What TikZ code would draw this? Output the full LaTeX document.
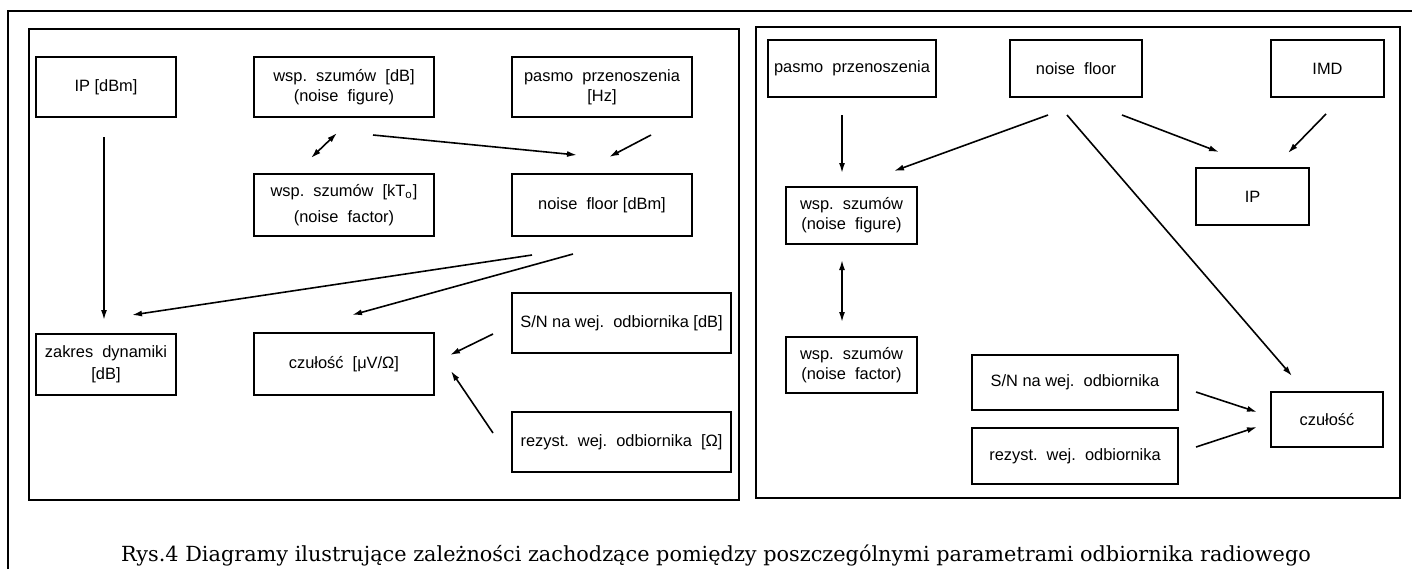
\documentclass[tikz,border=0pt]{standalone}
\usepackage{fontspec}
\newfontfamily\boxfont{Liberation Sans}
\newfontfamily\capfont{DejaVu Serif}
\usetikzlibrary{arrows.meta}
\tikzset{>={Latex[length=5pt,width=3pt]}}
\tikzset{box/.style={draw, line width=1pt, align=center, inner sep=0pt, font={\boxfont\fontsize{8.2}{10}\selectfont}}}
\tikzset{conn/.style={line width=0.8pt}}
\begin{document}
\begin{tikzpicture}[x=0.5pt, y=-0.5pt]
\useasboundingbox (0,0) rectangle (1412,569);
% frame and the two panels
\draw[line width=1pt] (8,569) -- (8,11) -- (1412,11);
\draw[line width=1pt] (29,29) rectangle (739,500);
\draw[line width=1pt] (756,27) rectangle (1400,498);

% left panel
\node[box, minimum width=70pt, minimum height=30pt] (ipL) at (106,87) {IP [dBm]};
\node[box, minimum width=90pt, minimum height=30pt] (nfigL) at (344,87) {wsp.~~szumów~~[dB]\\(noise~~figure)};
\node[box, minimum width=90pt, minimum height=30pt] (bwL) at (602,87) {pasmo~~przenoszenia\\{[Hz]}};
\node[box, minimum width=90pt, minimum height=31pt] (nfacL) at (344,205) {wsp.~~szumów~~[kT\textsubscript{o}]\\[3pt](noise~~factor)};
\node[box, minimum width=90pt, minimum height=31pt] (floorL) at (602,205) {noise~~floor [dBm]};
\node[box, minimum width=109.5pt, minimum height=30pt] (snL) at (621.5,323) {S/N na wej.~~odbiornika [dB]};
\node[box, minimum width=70pt, minimum height=30.5pt] (dynL) at (106,364.5) {zakres~~dynamiki\\[1pt]{[dB]}};
\node[box, minimum width=90pt, minimum height=31pt] (sensL) at (344,364) {czułość~~[μV/Ω]};
\node[box, minimum width=109.5pt, minimum height=30pt] (resL) at (621.5,442) {rezyst.~~wej.~~odbiornika~~[Ω]};

\coordinate (l1a) at (104,137); \coordinate (l1b) at (104,320);
\coordinate (l2a) at (337,133); \coordinate (l2b) at (311,158);
\coordinate (l3a) at (373,135); \coordinate (l3b) at (577,155);
\coordinate (l4a) at (651,135); \coordinate (l4b) at (609,157);
\coordinate (l5a) at (532,255); \coordinate (l5b) at (132,315);
\coordinate (l6a) at (573,254); \coordinate (l6b) at (352,315);
\coordinate (l7a) at (493,334); \coordinate (l7b) at (450,355);
\coordinate (l8a) at (493,433); \coordinate (l8b) at (451,371);
\draw[conn, ->] (l1a) -- (l1b);
\draw[conn, <->] (l2a) -- (l2b);
\draw[conn, ->] (l3a) -- (l3b);
\draw[conn, ->] (l4a) -- (l4b);
\draw[conn, ->] (l5a) -- (l5b);
\draw[conn, ->] (l6a) -- (l6b);
\draw[conn, ->] (l7a) -- (l7b);
\draw[conn, ->] (l8a) -- (l8b);

% right panel
\node[box, minimum width=84pt, minimum height=28.5pt] (bwR) at (852,68.5) {pasmo~~przenoszenia};
\node[box, minimum width=66pt, minimum height=28.5pt] (floorR) at (1076,68.5) {noise~~floor};
\node[box, minimum width=56.5pt, minimum height=28.5pt] (imdR) at (1327.5,68.5) {IMD};
\node[box, minimum width=65.5pt, minimum height=28.5pt] (nfigR) at (851.5,215.5) {wsp.~~szumów\\(noise~~figure)};
\node[box, minimum width=56.5pt, minimum height=28.5pt] (ipR) at (1252.5,196.5) {IP};
\node[box, minimum width=65.5pt, minimum height=28pt] (nfacR) at (851.5,365) {wsp.~~szumów\\(noise~~factor)};
\node[box, minimum width=103pt, minimum height=27.5pt] (snR) at (1075,382.5) {S/N na wej.~~odbiornika};
\node[box, minimum width=103pt, minimum height=28pt] (resR) at (1075,456) {rezyst.~~wej.~~odbiornika};
\node[box, minimum width=56pt, minimum height=27.5pt] (sensR) at (1327,419.5) {czułość};

\coordinate (r1a) at (842,115); \coordinate (r1b) at (842,173);
\coordinate (r2a) at (1048,115); \coordinate (r2b) at (894,171);
\coordinate (r3a) at (1067,115); \coordinate (r3b) at (1292,376);
\coordinate (r4a) at (1122,115); \coordinate (r4b) at (1219,152);
\coordinate (r5a) at (1326,114); \coordinate (r5b) at (1288,153);
\coordinate (r6a) at (842,260); \coordinate (r6b) at (842,322);
\coordinate (r7a) at (1196,392); \coordinate (r7b) at (1257,412);
\coordinate (r8a) at (1196,447); \coordinate (r8b) at (1257,427);
\draw[conn, ->] (r1a) -- (r1b);
\draw[conn, ->] (r2a) -- (r2b);
\draw[conn, ->] (r3a) -- (r3b);
\draw[conn, ->] (r4a) -- (r4b);
\draw[conn, ->] (r5a) -- (r5b);
\draw[conn, <->] (r6a) -- (r6b);
\draw[conn, ->] (r7a) -- (r7b);
\draw[conn, ->] (r8a) -- (r8b);

% caption
\node[font={\capfont\fontsize{10.4}{12}\selectfont}, anchor=base] (cap) at (716,561) {Rys.4 Diagramy ilustrujące zależności zachodzące pomiędzy poszczególnymi parametrami odbiornika radiowego};
\end{tikzpicture}
\end{document}
